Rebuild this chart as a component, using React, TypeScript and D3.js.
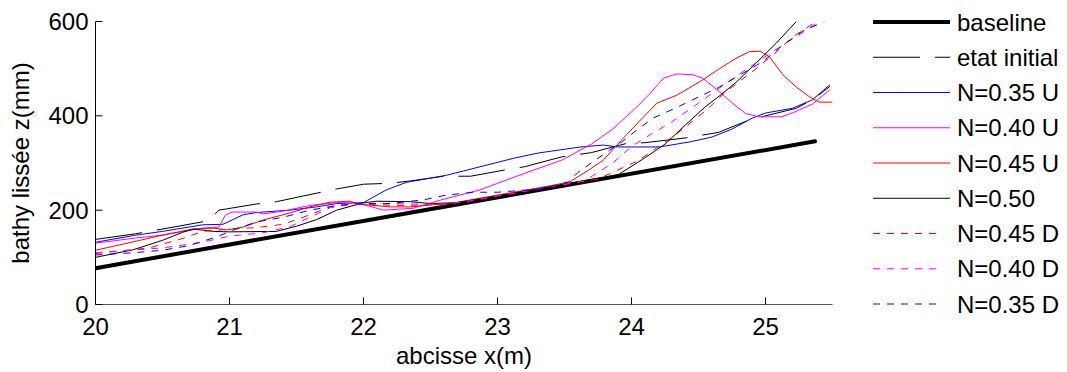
import React from 'react';
import * as d3 from 'd3';

const width = 1067;
const height = 372;

const xTicks = [20, 21, 22, 23, 24, 25];
const yTicks = [0, 200, 400, 600];

// courbes : [x (m), z (mm)]
const baseline = [[20, 77], [25.37, 346]];

const etatInitial = [
  [20, 138], [20.3, 150], [20.6, 165], [20.85, 178], [20.92, 200], [21.2, 213], [21.35, 218],
  [21.65, 236], [21.8, 245], [22.0, 255], [22.2, 257], [22.35, 262], [22.6, 272], [22.8, 272],
  [23.05, 285], [23.2, 292], [23.48, 313], [23.7, 322], [23.97, 342], [24.1, 343], [24.4, 353],
  [24.65, 365], [24.85, 388], [25.0, 400], [25.23, 416], [25.35, 434], [25.48, 462],
];

const n035U = [
  [20, 132], [20.3, 147], [20.5, 155], [20.8, 169], [20.95, 170], [21.1, 190], [21.2, 195],
  [21.45, 200], [21.65, 207], [21.8, 214], [22.0, 216], [22.17, 243], [22.32, 259], [22.62, 274],
  [22.87, 292], [23.12, 310], [23.3, 321], [23.62, 334], [23.79, 338], [23.9, 334], [24.21, 334],
  [24.44, 345], [24.6, 355], [24.75, 372], [24.9, 395], [25.0, 406], [25.2, 416], [25.35, 434],
  [25.48, 466],
];

const n040U = [
  [20, 130], [20.3, 141], [20.5, 147], [20.8, 162], [20.92, 164], [20.97, 190], [21.02, 196],
  [21.2, 196], [21.25, 192], [21.4, 198], [21.6, 210], [21.8, 216], [21.95, 215], [22.05, 208],
  [22.15, 200], [22.37, 204], [22.57, 221], [22.87, 243], [23.0, 257], [23.23, 281], [23.48, 306],
  [23.7, 340], [23.86, 372], [24.04, 419], [24.14, 448], [24.24, 480], [24.34, 489], [24.46, 487],
  [24.53, 480], [24.64, 455], [24.74, 430], [24.85, 405], [24.95, 398], [25.12, 398], [25.2, 406],
  [25.35, 425], [25.48, 455],
];

const n045U = [
  [20, 115], [20.33, 136], [20.53, 149], [20.73, 160], [20.88, 162], [20.98, 158], [21.1, 164],
  [21.25, 179], [21.45, 194], [21.6, 207], [21.75, 217], [21.9, 219], [21.96, 213], [22.2, 207],
  [22.35, 207], [22.5, 211], [22.65, 214], [22.8, 222], [23.0, 232], [23.2, 242], [23.4, 252],
  [23.54, 260], [23.68, 285], [23.79, 306], [23.93, 350], [24.04, 383], [24.19, 427], [24.34, 444],
  [24.53, 476], [24.64, 497], [24.78, 522], [24.88, 536], [24.96, 537], [25.03, 525], [25.13, 487],
  [25.23, 461], [25.33, 440], [25.4, 429], [25.5, 429],
];

const n050 = [
  [20, 100], [20.28, 116], [20.5, 136], [20.65, 153], [20.73, 160], [20.88, 155], [21.0, 154],
  [21.35, 155], [21.5, 166], [21.65, 180], [21.8, 200], [21.99, 215], [22.1, 219], [22.35, 218],
  [22.5, 214], [22.7, 216], [23.0, 230], [23.5, 255], [23.9, 275], [24.1, 311], [24.25, 340],
  [24.4, 380], [24.55, 419], [24.66, 443], [24.78, 471], [24.93, 512], [25.08, 554], [25.23, 600],
];

const n045D = [
  [20, 108], [20.4, 120], [20.65, 140], [20.8, 155], [21.0, 160], [21.2, 163], [21.4, 170],
  [21.55, 185], [21.75, 207], [21.9, 213], [22.0, 212], [22.3, 210], [22.6, 212], [22.8, 220],
  [23.0, 230], [23.3, 245], [23.6, 259], [23.75, 266], [24.05, 305], [24.33, 360], [24.55, 410],
  [24.7, 450], [24.93, 500], [25.08, 535], [25.2, 567], [25.38, 600],
];

const n040D = [
  [20, 110], [20.5, 120], [20.8, 132], [21.0, 145], [21.25, 152], [21.45, 165], [21.6, 185],
  [21.75, 205], [21.9, 212], [22.0, 214], [22.2, 214], [22.4, 213], [22.6, 213], [22.8, 220],
  [23.0, 230], [23.3, 245], [23.65, 262], [23.75, 280], [23.86, 300], [24.0, 335], [24.14, 360],
  [24.3, 387], [24.5, 427], [24.75, 478], [25.1, 545], [25.23, 568], [25.4, 600],
];

const n035D = [
  [20, 105], [20.3, 110], [20.5, 115], [20.7, 125], [20.9, 143], [21.05, 160], [21.2, 175],
  [21.4, 185], [21.6, 200], [21.8, 210], [22.0, 214], [22.2, 214], [22.45, 222], [22.62, 232],
  [22.82, 238], [23.0, 238], [23.23, 243], [23.35, 246], [23.53, 260], [23.6, 280], [23.7, 300],
  [23.8, 320], [23.93, 345], [24.04, 370], [24.16, 395], [24.34, 418], [24.5, 440], [24.65, 460],
  [24.83, 490], [24.98, 515], [25.13, 550], [25.28, 580], [25.44, 600],
];

const series = [
  { label: 'baseline', data: baseline, color: '#000000', w: 4, dash: '' },
  { label: 'etat initial', data: etatInitial, color: '#000000', w: 1, dash: '47,15' },
  { label: 'N=0.35 U', data: n035U, color: '#0000ff', w: 1, dash: '' },
  { label: 'N=0.40 U', data: n040U, color: '#ff00ff', w: 1, dash: '' },
  { label: 'N=0.45 U', data: n045U, color: '#ff0000', w: 1, dash: '' },
  { label: 'N=0.50', data: n050, color: '#000000', w: 1, dash: '' },
  { label: 'N=0.45 D', data: n045D, color: '#ff0000', w: 1, dash: '7,7' },
  { label: 'N=0.40 D', data: n040D, color: '#ff00ff', w: 1, dash: '7,7' },
  { label: 'N=0.35 D', data: n035D, color: '#0000ff', w: 1, dash: '7,7' },
];

const font = "'Liberation Sans', Arial, sans-serif";
const fs = 24;

export default function App() {
  const x = d3.scaleLinear().domain([20, 25.5]).range([95.5, 832.5]);
  const y = d3.scaleLinear().domain([0, 600]).range([304.5, 21.5]);

  const line = d3.line<number[]>()
    .x(d => x(d[0]))
    .y(d => y(d[1]));

  const legendX = 873;
  const legendY = d3.scaleLinear().domain([0, 8]).range([22, 304]);

  return (
    <svg width={width} height={height} style={{ position: 'absolute', left: 0, top: 0, background: '#fff' }}
      fontFamily={font}>
      <defs>
        <clipPath id="plot">
          <rect x={x(20)} y={y(600)} width={x(25.5) - x(20)} height={y(0) - y(600)} />
        </clipPath>
      </defs>
      <rect width={width} height={height} fill="#fff" />

      <g clipPath="url(#plot)">
        {series.map(s => (
          <path key={s.label} d={line(s.data) || ''} fill="none" stroke={s.color}
            strokeWidth={s.w} strokeDasharray={s.dash || undefined} strokeLinecap={s.w > 2 ? 'round' : 'butt'} />
        ))}
      </g>

      {/* axes */}
      <line x1={x(20)} x2={x(20)} y1={y(600)} y2={y(0)} stroke="#000" />
      <line x1={x(20)} x2={x(25.5)} y1={y(0)} y2={y(0)} stroke="#555" />
      {xTicks.map(t => (
        <g key={'x' + t}>
          <line x1={x(t)} x2={x(t)} y1={y(0)} y2={y(0) - 7} stroke="#000" />
          <text x={x(t)} y={y(0) + 30} textAnchor="middle" fontSize={fs}>{t}</text>
        </g>
      ))}
      {yTicks.map(t => (
        <g key={'y' + t}>
          <line x1={x(20)} x2={x(20) + 7} y1={y(t)} y2={y(t)} stroke="#000" />
          <text x={x(20) - 7} y={y(t) + 8.5} textAnchor="end" fontSize={fs}>{t}</text>
        </g>
      ))}
      <text x={(x(20) + x(25.5)) / 2} y={364} textAnchor="middle" fontSize={fs}>abcisse x(m)</text>
      <text transform={`translate(29,${(y(0) + y(600)) / 2}) rotate(-90)`} textAnchor="middle" fontSize={fs}>
        bathy lissée z(mm)
      </text>

      {/* légende */}
      {series.map((s, i) => (
        <g key={'l' + s.label} transform={`translate(0,${legendY(i)})`}>
          <line x1={legendX} x2={s.dash === '7,7' ? 943 : 950} y1={0} y2={0} stroke={s.color}
            strokeWidth={s.w} strokeDasharray={s.dash || undefined} />
          <text x={957} y={8.5} fontSize={fs}>{s.label}</text>
        </g>
      ))}
    </svg>
  );
}
